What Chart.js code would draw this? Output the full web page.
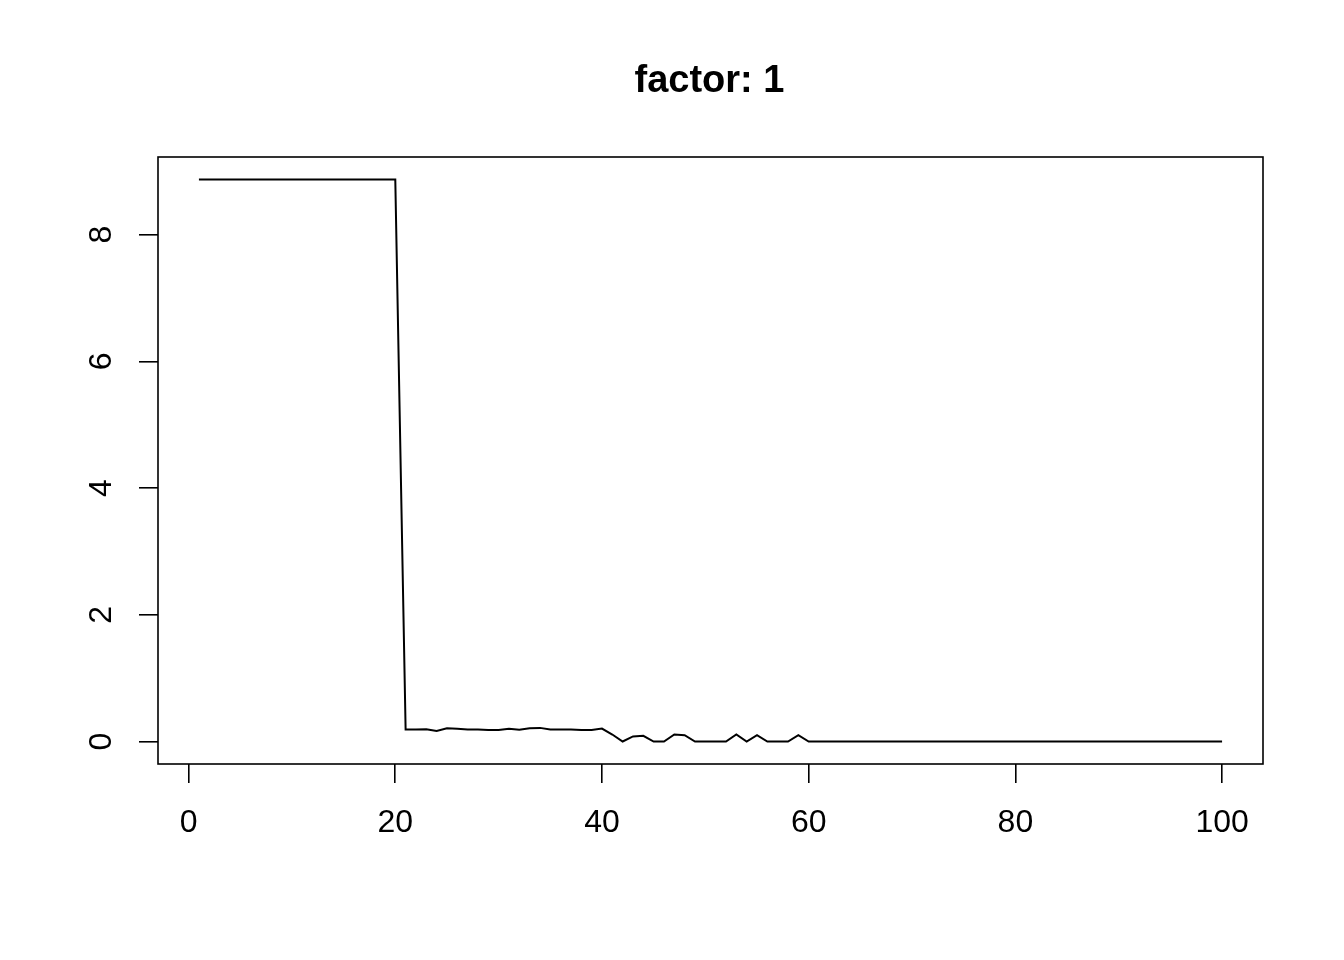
<!DOCTYPE html>
<html>
<head>
<meta charset="utf-8">
<script src="https://cdn.jsdelivr.net/npm/chart.js@4/dist/chart.umd.min.js"></script>
<style>
  html, body { margin: 0; padding: 0; background: #ffffff; }
  canvas { display: block; }
</style>
</head>
<body>
<canvas id="c" width="1344" height="960"></canvas>
<script>
const chartTitle = "factor: 1";
const xValues = [1,2,3,4,5,6,7,8,9,10,11,12,13,14,15,16,17,18,19,20,
  21,22,23,24,25,26,27,28,29,30,31,32,33,34,35,36,37,38,39,40,
  41,42,43,44,45,46,47,48,49,50,51,52,53,54,55,56,57,58,59,60,
  61,62,63,64,65,66,67,68,69,70,71,72,73,74,75,76,77,78,79,80,
  81,82,83,84,85,86,87,88,89,90,91,92,93,94,95,96,97,98,99,100];
const yValues = [8.87,8.87,8.87,8.87,8.87,8.87,8.87,8.87,8.87,8.87,
  8.87,8.87,8.87,8.87,8.87,8.87,8.87,8.87,8.87,8.87,
  0.19,0.19,0.195,0.165,0.21,0.2,0.19,0.19,0.18,0.18,
  0.2,0.185,0.21,0.215,0.19,0.19,0.19,0.18,0.18,0.205,
  0.11,0,0.08,0.09,0,0,0.11,0.1,0,0,
  0,0,0.11,0,0.1,0,0,0,0.1,0,
  0,0,0,0,0,0,0,0,0,0,
  0,0,0,0,0,0,0,0,0,0,
  0,0,0,0,0,0,0,0,0,0,
  0,0,0,0,0,0,0,0,0,0];
const xTicks = [0, 20, 40, 60, 80, 100];
const yTicks = [0, 2, 4, 6, 8];

const points = xValues.map((x, i) => ({x: x, y: yValues[i]}));
const FONT = "'Liberation Sans', Arial, Helvetica, sans-serif";

const boxAndTitle = {
  id: 'boxAndTitle',
  afterDraw(chart) {
    const ctx = chart.ctx, a = chart.chartArea;
    ctx.save();
    ctx.strokeStyle = '#000';
    ctx.lineWidth = 1.6;
    ctx.strokeRect(a.left, a.top, a.right - a.left, a.bottom - a.top);
    ctx.fillStyle = '#000';
    ctx.font = "bold 38px " + FONT;
    ctx.textAlign = 'center';
    ctx.textBaseline = 'middle';
    ctx.fillText(chartTitle, (a.left + a.right) / 2 - 1, 82);
    ctx.restore();
  }
};

new Chart(document.getElementById('c'), {
  type: 'line',
  data: {
    datasets: [{
      data: points,
      borderColor: '#000',
      borderWidth: 2,
      pointRadius: 0,
      tension: 0,
      fill: false
    }]
  },
  options: {
    responsive: false,
    animation: false,
    devicePixelRatio: 1,
    layout: { padding: { top: 157, right: 81, left: 0, bottom: 0 } },
    plugins: { legend: { display: false }, tooltip: { enabled: false }, title: { display: false } },
    scales: {
      x: {
        type: 'linear',
        min: -2.96, max: 103.96,
        afterFit(s) { s.height = 196; },
        afterBuildTicks(s) { s.ticks = xTicks.map(v => ({value: v})); },
        border: { display: false },
        grid: { drawOnChartArea: false, drawTicks: true, tickLength: 19, color: '#000', lineWidth: 1.6 },
        ticks: { color: '#000', font: { family: FONT, size: 32 }, padding: 21, maxRotation: 0, autoSkip: false }
      },
      y: {
        type: 'linear',
        min: -0.355, max: 9.225,
        afterFit(s) { s.width = 158; },
        afterBuildTicks(s) { s.ticks = yTicks.map(v => ({value: v})); },
        border: { display: false },
        grid: { drawOnChartArea: false, drawTicks: true, tickLength: 19, color: '#000', lineWidth: 1.6 },
        ticks: { color: '#000', font: { family: FONT, size: 32 }, padding: 28, minRotation: 90, maxRotation: 90, crossAlign: 'center', autoSkip: false }
      }
    }
  },
  plugins: [boxAndTitle]
});
</script>
</body>
</html>
